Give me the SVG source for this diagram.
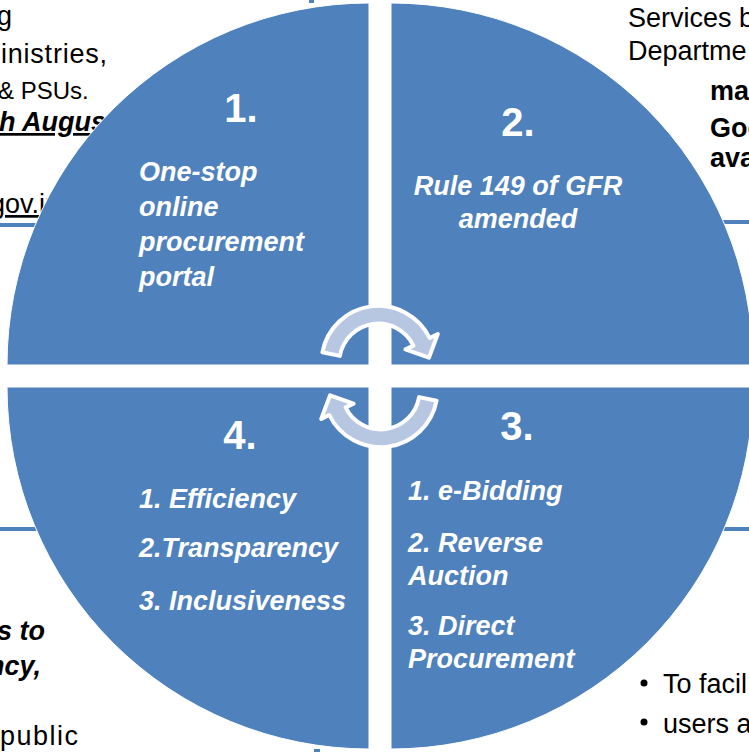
<svg xmlns="http://www.w3.org/2000/svg" width="749" height="752" viewBox="0 0 749 752">
<style>
.bg{font-family:"Liberation Sans",Arial,sans-serif;font-size:27px;fill:#000}
.bb{font-weight:bold}
.bi{font-weight:bold;font-style:italic}
.q{fill:#4F81BD;stroke:#FFFFFF;stroke-width:1}
.num{font-family:"Liberation Sans",Arial,sans-serif;font-size:40px;font-weight:bold;fill:#FFFFFF;text-anchor:middle}
.lbl{font-family:"Liberation Sans",Arial,sans-serif;font-size:27px;font-weight:bold;font-style:italic;fill:#FFFFFF}
.arr{fill:#B7C7E2;stroke:#FFFFFF;stroke-width:4;stroke-linejoin:round}
.bl{fill:#4F81BD}
</style>
<rect width="749" height="752" fill="#FFFFFF"/>
<g id="background">
<text class="bg" x="-3" y="25">g</text>
<text class="bg" x="1" y="63" textLength="106">inistries,</text>
<text class="bg" x="-2" y="99" style="font-size:24px">&amp; PSUs.</text>
<text class="bg bi" x="-1" y="131" text-decoration="underline">h August</text>
<text class="bg" x="-10" y="213" text-decoration="underline">gov.in</text>
<rect class="bl" x="0" y="223" width="80" height="4"/>
<text class="bg" x="628" y="27">Services b</text>
<text class="bg" x="628" y="60">Departme</text>
<text class="bg bb" x="710" y="100">ma</text>
<text class="bg bb" x="710" y="137">Goo</text>
<text class="bg bb" x="710" y="167">ava</text>
<rect class="bl" x="700" y="220" width="49" height="4"/>
<rect class="bl" x="0" y="527" width="80" height="4"/>
<rect class="bl" x="700" y="527" width="49" height="4"/>
<text class="bg bi" x="45" y="640" text-anchor="end">s to</text>
<text class="bg bi" x="41" y="675" text-anchor="end">ncy,</text>
<text class="bg" x="0" y="745" textLength="78">public</text>
<circle cx="644" cy="683" r="3.5" fill="#000"/>
<text class="bg" x="663" y="693">To facil</text>
<circle cx="644" cy="722" r="3.5" fill="#000"/>
<text class="bg" x="663" y="733">users a</text>
<rect class="bl" x="309" y="0" width="5" height="3"/>
<rect class="bl" x="314" y="749" width="6" height="3"/>
</g>
<g id="node1">
<path class="q" d="M369,365 L7,365 A362,362 0 0 1 369,3 Z"/>
<text class="num" x="241" y="122">1.</text>
<text class="lbl" x="139" y="181">One-stop</text>
<text class="lbl" x="139" y="216">online</text>
<text class="lbl" x="139" y="251">procurement</text>
<text class="lbl" x="139" y="286">portal</text>
</g>
<g id="node2">
<path class="q" d="M391,365 L391,3 A362,362 0 0 1 753,365 Z"/>
<text class="num" x="518" y="136">2.</text>
<text class="lbl" x="518" y="195" text-anchor="middle">Rule 149 of GFR</text>
<text class="lbl" x="518" y="228" text-anchor="middle">amended</text>
</g>
<g id="node3">
<path class="q" d="M391,387 L753,387 A362,362 0 0 1 391,749 Z"/>
<text class="num" x="517" y="440">3.</text>
<text class="lbl" x="408" y="500">1. e-Bidding</text>
<text class="lbl" x="408" y="552">2. Reverse</text>
<text class="lbl" x="408" y="585">Auction</text>
<text class="lbl" x="408" y="635">3. Direct</text>
<text class="lbl" x="408" y="668">Procurement</text>
</g>
<g id="node4">
<path class="q" d="M369,387 L369,749 A362,362 0 0 1 7,387 Z"/>
<text class="num" x="240" y="449">4.</text>
<text class="lbl" x="139" y="508">1. Efficiency</text>
<text class="lbl" x="139" y="557">2.Transparency</text>
<text class="lbl" x="139" y="610">3. Inclusiveness</text>
</g>
<g id="connectors">
<path id="arrowTop" class="arr" d="M322.4,352.3 A57,57 0 0 1 429.7,338.0 L437.8,334.1 L428.9,357.7 L405.4,349.3 L413.4,345.6 A39,39 0 0 0 339.9,355.9 Z"/>
<path id="arrowBottom" class="arr" transform="rotate(180 379.5 376.5)" d="M322.4,352.3 A57,57 0 0 1 429.7,338.0 L437.8,334.1 L428.9,357.7 L405.4,349.3 L413.4,345.6 A39,39 0 0 0 339.9,355.9 Z"/>
</g>
</svg>
